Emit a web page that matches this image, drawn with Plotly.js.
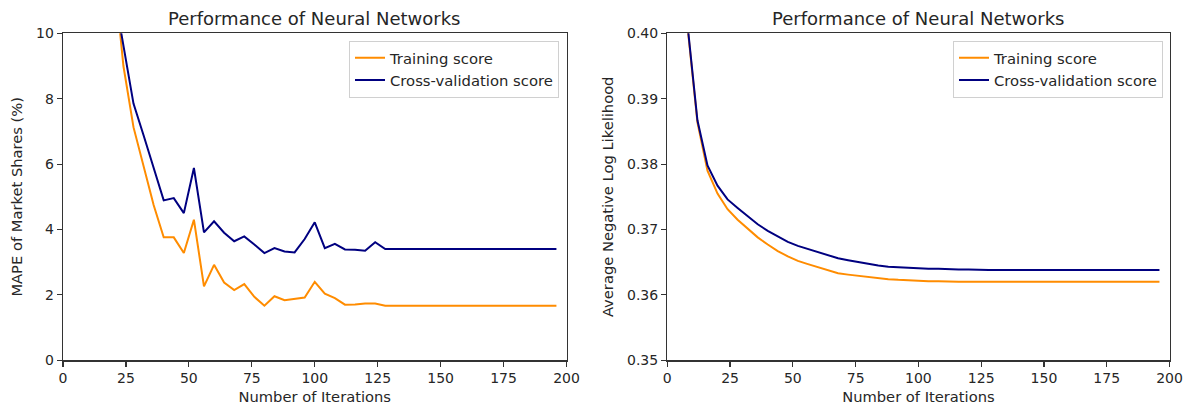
<!DOCTYPE html>
<html>
<head>
<meta charset="utf-8">
<script src="https://cdn.plot.ly/plotly-3.0.1.min.js"></script>
<style>html,body{margin:0;padding:0;background:#fff;}#chart{width:1195px;height:408px;}</style>
</head>
<body>
<div id="chart"></div>
<script>
// ---- Data ----
const chartTitle = "Performance of Neural Networks";
const seriesNames = ["Training score", "Cross-validation score"];

// Left panel: MAPE of market shares (%)
const mapeIterations = [20, 24, 28, 32, 36, 40, 44, 48, 52, 56, 60, 64, 68, 72, 76, 80, 84, 88, 92, 96,
  100, 104, 108, 112, 116, 120, 124, 128, 132, 136, 140, 144, 148, 152, 156, 160, 164, 168, 172, 176,
  180, 184, 188, 192, 196];
const mapeTraining = [12.1, 9.0, 7.13, 5.9, 4.75, 3.76, 3.76, 3.28, 4.30, 2.26, 2.92, 2.38, 2.15, 2.33, 1.94, 1.67, 1.96, 1.84, 1.87, 1.92,
  2.40, 2.04, 1.90, 1.70, 1.71, 1.74, 1.74, 1.67, 1.67, 1.67, 1.67, 1.67, 1.67, 1.67, 1.67, 1.67, 1.67, 1.67, 1.67, 1.67,
  1.67, 1.67, 1.67, 1.67, 1.67];
const mapeCV = [11.4, 9.6, 7.85, 6.88, 5.86, 4.89, 4.96, 4.50, 5.88, 3.91, 4.25, 3.90, 3.64, 3.79, 3.54, 3.28, 3.43, 3.33, 3.30, 3.71,
  4.22, 3.43, 3.56, 3.39, 3.38, 3.35, 3.61, 3.40, 3.40, 3.40, 3.40, 3.40, 3.40, 3.40, 3.40, 3.40, 3.40, 3.40, 3.40, 3.40,
  3.40, 3.40, 3.40, 3.40, 3.40];

// Right panel: average negative log likelihood
const nllIterations = [4, 8, 12, 16, 20, 24, 28, 32, 36, 40, 44, 48, 52, 56, 60, 64, 68, 72, 76, 80,
  84, 88, 92, 96, 100, 104, 108, 112, 116, 120, 124, 128, 132, 136, 140, 144, 148, 152, 156, 160,
  164, 168, 172, 176, 180, 184, 188, 192, 196];
const nllTraining = [0.4300, 0.4012, 0.3864, 0.3790, 0.3755, 0.3731, 0.3715, 0.3701, 0.3688, 0.3677, 0.3667, 0.3659, 0.3652, 0.3647, 0.3642, 0.3637, 0.3633, 0.3631, 0.3629, 0.3627,
  0.3625, 0.3624, 0.3623, 0.3622, 0.3622, 0.3621, 0.3621, 0.3620, 0.3620, 0.3620, 0.3620, 0.3620, 0.3620, 0.3620, 0.3620, 0.3620, 0.3620, 0.3620, 0.3620, 0.3620,
  0.3620, 0.3620, 0.3620, 0.3620, 0.3620, 0.3620, 0.3620, 0.3620, 0.3620];
const nllCV = [0.4300, 0.4015, 0.3867, 0.3798, 0.3767, 0.3746, 0.3733, 0.3720, 0.3708, 0.3698, 0.3689, 0.3681, 0.3675, 0.3670, 0.3665, 0.3660, 0.3656, 0.3653, 0.3650, 0.3647,
  0.3645, 0.3643, 0.3642, 0.3642, 0.3641, 0.3640, 0.3640, 0.3639, 0.3639, 0.3639, 0.3638, 0.3638, 0.3638, 0.3638, 0.3638, 0.3638, 0.3638, 0.3638, 0.3638, 0.3638,
  0.3638, 0.3638, 0.3638, 0.3638, 0.3638, 0.3638, 0.3638, 0.3638, 0.3638];

const xTickVals = [0, 25, 50, 75, 100, 125, 150, 175, 200];
const mapeTickVals = [0, 2, 4, 6, 8, 10];
const nllTickVals = [0.35, 0.36, 0.37, 0.38, 0.39, 0.40];

// ---- Styles ----
const ORANGE = "#ff8c00";
const NAVY = "#000080";
const FONT = "DejaVu Sans, sans-serif";
const TXT = "#262626";

const traces = [
  {x: mapeIterations, y: mapeTraining, name: seriesNames[0], type: "scatter", mode: "lines",
   line: {color: ORANGE, width: 2}, xaxis: "x", yaxis: "y", legend: "legend"},
  {x: mapeIterations, y: mapeCV, name: seriesNames[1], type: "scatter", mode: "lines",
   line: {color: NAVY, width: 2}, xaxis: "x", yaxis: "y", legend: "legend"},
  {x: nllIterations, y: nllTraining, name: seriesNames[0], type: "scatter", mode: "lines",
   line: {color: ORANGE, width: 2}, xaxis: "x2", yaxis: "y2", legend: "legend2"},
  {x: nllIterations, y: nllCV, name: seriesNames[1], type: "scatter", mode: "lines",
   line: {color: NAVY, width: 2}, xaxis: "x2", yaxis: "y2", legend: "legend2"}
];

function axisBase(extra) {
  return Object.assign({
    showgrid: false, zeroline: false, showline: true, mirror: true,
    linecolor: "#333", linewidth: 1.3, ticks: "outside", ticklen: 5, tickwidth: 1.2, tickcolor: "#333",
    tickfont: {family: FONT, size: 14, color: TXT}
  }, extra);
}

const LABEL_FONT = {family: FONT, size: 14.7, color: TXT};
const yDomain = [1 - 360.3 / 408, 1 - 33.3 / 408];
const legendStyle = {bgcolor: "rgba(255,255,255,0.8)", bordercolor: "#d0d0d0", borderwidth: 1,
  font: {family: FONT, size: 14.8, color: TXT}, xanchor: "right", yanchor: "top"};
const layout = {
  width: 1195, height: 408,
  margin: {l: 0, r: 0, t: 0, b: 0},
  paper_bgcolor: "#fff", plot_bgcolor: "#fff",
  font: {family: FONT, color: TXT},
  xaxis: axisBase({domain: [63 / 1195, 566.5 / 1195], range: [0, 200], tickvals: xTickVals, anchor: "y",
    title: {text: "Number of Iterations", font: LABEL_FONT, standoff: 6}}),
  yaxis: axisBase({domain: yDomain, range: [0, 10], tickvals: mapeTickVals, anchor: "x",
    title: {text: "MAPE of Market Shares (%)", font: LABEL_FONT, standoff: 10}}),
  xaxis2: axisBase({domain: [667.3 / 1195, 1169.5 / 1195], range: [0, 200], tickvals: xTickVals, anchor: "y2",
    title: {text: "Number of Iterations", font: LABEL_FONT, standoff: 6}}),
  yaxis2: axisBase({domain: yDomain, range: [0.35, 0.40], tickvals: nllTickVals, tickformat: ".2f", anchor: "x2",
    title: {text: "Average Negative Log Likelihood", font: LABEL_FONT, standoff: 10}}),
  legend: Object.assign({x: 559 / 1195, y: 1 - 40.7 / 408}, legendStyle),
  legend2: Object.assign({x: 1163 / 1195, y: 1 - 40.7 / 408}, legendStyle),
  annotations: [
    {text: chartTitle, xref: "paper", yref: "paper", x: (63 + 566.5) / 2 / 1195, y: 1 - 18.5 / 408,
     xanchor: "center", yanchor: "middle", showarrow: false, font: {family: FONT, size: 18, color: TXT}},
    {text: chartTitle, xref: "paper", yref: "paper", x: (667.3 + 1169.5) / 2 / 1195, y: 1 - 18.5 / 408,
     xanchor: "center", yanchor: "middle", showarrow: false, font: {family: FONT, size: 18, color: TXT}}
  ],
  showlegend: true
};

Plotly.newPlot("chart", traces, layout, {displayModeBar: false, staticPlot: true});
</script>
</body>
</html>
